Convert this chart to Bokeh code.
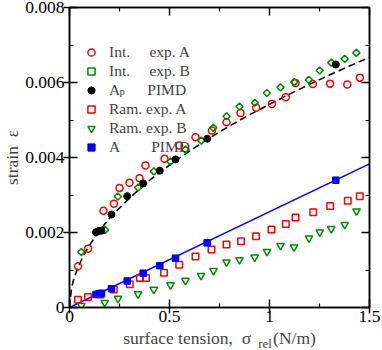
from math import pi
from bokeh.plotting import figure
from bokeh.models import FixedTicker, LinearAxis, Legend, LegendItem, Label
from bokeh.embed import file_html
from bokeh.resources import INLINE

FONT = "Liberation Serif"
RED = "#ff0000"
GREEN = "#008b00"
BLUE = "#0000ff"
NB = "\u00a0"

# ---- data ----
int_a_sigma = [0.043, 0.093, 0.17, 0.222, 0.25, 0.30, 0.35, 0.38, 0.475, 0.548, 0.63, 0.712,
               0.785, 0.855, 0.933, 1.012, 1.081, 1.13, 1.217, 1.303, 1.389, 1.452]
int_a_eps = [0.00110, 0.00157, 0.00258, 0.00277, 0.00319, 0.00333, 0.00345, 0.00379, 0.00397,
             0.00432, 0.00454, 0.00472, 0.00494, 0.00519, 0.00533, 0.00543, 0.00561, 0.00599,
             0.00596, 0.00597, 0.00595, 0.00613]

int_b_sigma = [0.059, 0.178, 0.242, 0.343, 0.422, 0.505, 0.58, 0.659, 0.719, 0.785, 0.85, 0.927,
               0.987, 1.055, 1.124, 1.197, 1.251, 1.309, 1.376, 1.434]
int_b_eps = [0.00148, 0.00207, 0.00296, 0.00320, 0.00363, 0.00389, 0.00421, 0.00445, 0.00479,
             0.00510, 0.00536, 0.00546, 0.00572, 0.00587, 0.00601, 0.00607, 0.00632, 0.00653,
             0.00663, 0.00679]

ap_sigma = [0.1325, 0.1475, 0.16, 0.21, 0.2885, 0.3685, 0.4515, 0.53, 0.6885, 1.3315]
ap_eps = [0.00201, 0.00204, 0.00205, 0.00248, 0.00297, 0.00331, 0.00365, 0.00395, 0.00450, 0.00648]

fit_sigma = [0, 0.01, 0.02, 0.04, 0.07, 0.1, 0.15, 0.2, 0.3, 0.4, 0.5, 0.6, 0.7, 0.8, 0.9, 1.0,
             1.1, 1.2, 1.3, 1.4, 1.5]
fit_eps = [0, 0.00051, 0.00073, 0.00104, 0.00139, 0.00166, 0.00205, 0.00238, 0.00292, 0.00339,
           0.00380, 0.00417, 0.00452, 0.00484, 0.00514, 0.00542, 0.00569, 0.00595, 0.00620,
           0.00644, 0.00667]

ram_a_sigma = [0.0425, 0.0925, 0.155, 0.2215, 0.3015, 0.3525, 0.3825, 0.4725, 0.5485, 0.63, 0.71,
               0.785, 0.8575, 0.9325, 1.01, 1.0815, 1.13, 1.2185, 1.3035, 1.3915, 1.4515]
ram_a_eps = [0.00021, 0.00028, 0.00035, 0.00048, 0.00062, 0.00079, 0.00079, 0.00093, 0.00114,
             0.00136, 0.00155, 0.00168, 0.00177, 0.00190, 0.00208, 0.00223, 0.00240, 0.00254,
             0.00271, 0.00285, 0.00297]

ram_b_sigma = [0.059, 0.176, 0.2425, 0.3425, 0.4215, 0.505, 0.58, 0.6575, 0.72, 0.785, 0.85,
               0.926, 0.9875, 1.055, 1.1225, 1.1975, 1.2515, 1.3085, 1.376, 1.435]
ram_b_eps = [0.00005, 0.00013, 0.00024, 0.00036, 0.00048, 0.00060, 0.00072, 0.00085, 0.00098,
             0.00121, 0.00127, 0.00134, 0.00149, 0.00165, 0.00161, 0.00185, 0.00201, 0.00210,
             0.00221, 0.00257]

a_sigma = [0.1325, 0.1475, 0.16, 0.21, 0.2885, 0.3685, 0.4515, 0.53, 0.6885, 1.3315]
a_eps = [0.000347, 0.000365, 0.000381, 0.000501, 0.000707, 0.000915, 0.001115, 0.001315,
         0.001725, 0.003395]

a_line_sigma = [0, 1.5]
a_line_eps = [0, 0.00383]

x_ticks = [0, 0.5, 1, 1.5]
x_tick_labels = ["0", "0.5", "1", "1.5"]
x_minor = [0.25, 0.75, 1.25]
y_ticks = [0, 0.002, 0.004, 0.006, 0.008]
y_tick_labels = ["0", "0.002", "0.004", "0.006", "0.008"]
y_minor = [0.001, 0.003, 0.005, 0.007]

legend_labels = [
    "Int." + NB * 5 + "exp. A",
    "Int." + NB * 5 + "exp. B",
    "A" + NB * 7 + "PIMD",
    "Ram. exp. A",
    "Ram. exp. B",
    "A" + NB * 8 + "PIMD",
]
x_title = "surface tension," + NB * 2 + "\u03c3" + NB * 5 + "(N/m)"
x_title_sub = NB * 28 + "rel"
y_title = "strain" + NB * 2 + "\u03b5"

# ---- figure ----
p = figure(frame_width=300, frame_height=300, x_range=(0, 1.5), y_range=(0, 0.008),
           output_backend="svg", toolbar_location=None,
           min_border_left=69, min_border_right=13, min_border_top=7, min_border_bottom=43)
p.xgrid.visible = False
p.ygrid.visible = False
p.outline_line_color = "black"
p.outline_line_width = 1.5
p.background_fill_color = "white"
p.border_fill_color = "white"


def style_axis(ax, ticks, minor, labels, show_labels, tick_out, standoff):
    ax.ticker = FixedTicker(ticks=ticks, minor_ticks=minor)
    ax.major_label_overrides = {t: l for t, l in zip(ticks, labels)}
    ax.axis_line_color = "black"
    ax.axis_line_width = 1.5
    ax.major_tick_line_width = 1.5
    ax.minor_tick_line_width = 1.2
    ax.major_tick_in = 8
    ax.major_tick_out = tick_out
    ax.minor_tick_in = 4
    ax.minor_tick_out = 0
    ax.major_label_standoff = standoff
    ax.major_label_text_font = FONT
    if show_labels:
        ax.major_label_text_color = "black"
        ax.major_label_text_font_size = "17.5px"
    else:
        ax.major_label_text_color = None
        ax.major_label_text_font_size = "1px"


xax = p.xaxis[0]
yax = p.yaxis[0]
style_axis(xax, x_ticks, x_minor, x_tick_labels, True, 6, -3)
style_axis(yax, y_ticks, y_minor, y_tick_labels, True, 6, -1)

xax.axis_label = x_title
xax.axis_label_text_font = FONT
xax.axis_label_text_font_size = "17.5px"
xax.axis_label_text_font_style = "normal"
xax.axis_label_standoff = 3

# second bottom axis only carries the subscript "rel" of sigma
sub_ax = LinearAxis(ticker=FixedTicker(ticks=[]), axis_line_color=None,
                    major_tick_line_color=None, minor_tick_line_color=None,
                    major_label_text_color=None, major_label_text_font_size="1px",
                    axis_label=x_title_sub, axis_label_text_font=FONT,
                    axis_label_text_font_size="13px", axis_label_text_font_style="normal",
                    axis_label_standoff=-15)
p.add_layout(sub_ax, "below")

ax_top = LinearAxis()
style_axis(ax_top, x_ticks, x_minor, x_tick_labels, False, 0, 0)
p.add_layout(ax_top, "above")
ax_right = LinearAxis()
style_axis(ax_right, y_ticks, y_minor, y_tick_labels, False, 0, 0)
p.add_layout(ax_right, "right")

# ---- lines ----
p.line(fit_sigma, fit_eps, line_color="black", line_width=1.6, line_dash="7 4")
p.line(a_line_sigma, a_line_eps, line_color=BLUE, line_width=1.5)

# ---- markers ----
r_int_a = p.scatter(int_a_sigma, int_a_eps, marker="circle", size=7, fill_alpha=0,
                    line_color=RED, line_width=1.5)
r_int_b = p.scatter(int_b_sigma, int_b_eps, marker="square", angle=pi / 4, size=5, fill_alpha=0,
                    line_color=GREEN, line_width=1.5)
r_ap = p.scatter(ap_sigma, ap_eps, marker="circle", size=7, fill_color="black", line_color="black")
r_ram_a = p.scatter(ram_a_sigma, ram_a_eps, marker="square", size=6.5, fill_alpha=0,
                    line_color=RED, line_width=1.5)
r_ram_b = p.scatter(ram_b_sigma, ram_b_eps, marker="inverted_triangle", size=7.5, fill_alpha=0,
                    line_color=GREEN, line_width=1.5)
r_a = p.scatter(a_sigma, a_eps, marker="square", size=6.5, fill_color=BLUE, line_color=BLUE)

renderers = [r_int_a, r_int_b, r_ap, r_ram_a, r_ram_b, r_a]
legend = Legend(items=[LegendItem(label=l, renderers=[r]) for l, r in zip(legend_labels, renderers)],
                location=(13, 151), padding=12, spacing=1, glyph_width=18, glyph_height=18,
                label_height=18, label_standoff=9, label_text_font=FONT,
                label_text_font_size="15.5px", border_line_color=None,
                background_fill_alpha=0, margin=0)
p.add_layout(legend)

# subscript p of A_p in the legend
p.add_layout(Label(x=0.25, y=0.00578, text="p", text_font=FONT, text_font_size="11px",
                   text_baseline="middle", text_align="left"))

# y-axis title: a label kept in a side panel so that it is not clipped to the frame
p.add_layout(Label(x=-0.29, y=0.0040, text=y_title, text_font=FONT, text_font_size="17.5px",
                   text_baseline="middle", text_align="center", angle=pi / 2), "right")

open("out.html", "w").write(file_html(p, INLINE))
